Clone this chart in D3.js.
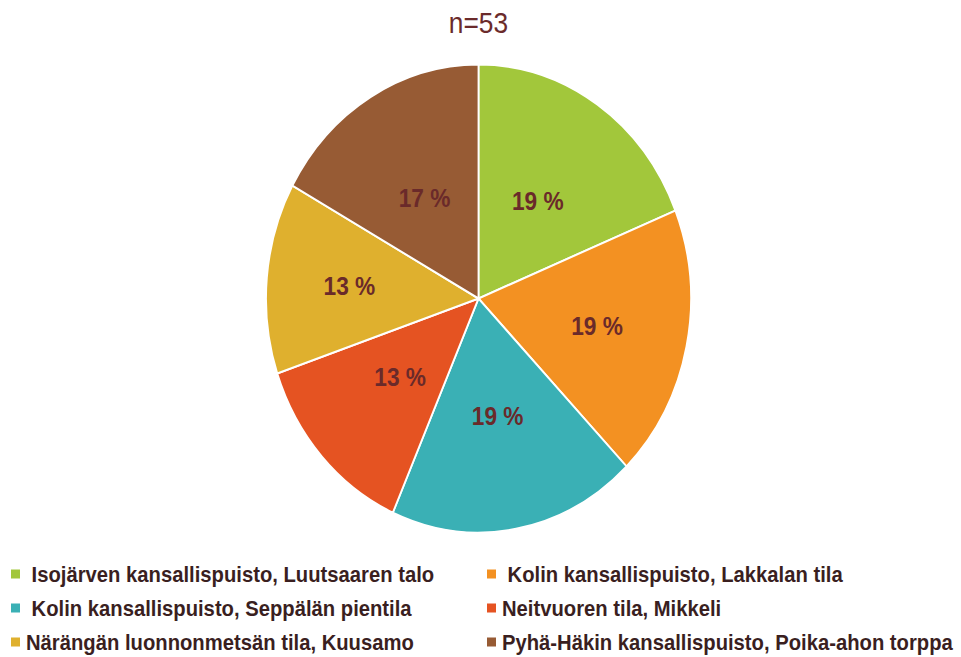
<!DOCTYPE html>
<html><head><meta charset="utf-8">
<script src="https://cdn.jsdelivr.net/npm/d3@7"></script>
<style>body{margin:0;background:#fff}text{white-space:pre}</style>
</head><body>
<svg id="c" width="961" height="657"></svg>
<script>
const categories = [
  " Isojärven kansallispuisto, Luutsaaren talo",
  " Kolin kansallispuisto, Lakkalan tila",
  " Kolin kansallispuisto, Seppälän pientila",
  "Neitvuoren tila, Mikkeli",
  "Närängän luonnonmetsän tila, Kuusamo",
  "Pyhä-Häkin kansallispuisto, Poika-ahon torppa"
];
const counts = [10, 10, 10, 7, 7, 9];
const percentLabels = ["19 %", "19 %", "19 %", "13 %", "13 %", "17 %"];
const colors = ["#A2C73B", "#F39122", "#3AB0B5", "#E55322", "#DFB02E", "#975B34"];
const title = "n=53";

const sx = 0.908;
const svg = d3.select("#c");
const g = svg.append("g").attr("transform", `scale(${sx},1)`);
const cx = 478.5 / sx, cy = 298.5, R = 234;

g.append("text").attr("x", cx).attr("y", 33).attr("text-anchor", "middle")
  .attr("font-family", "Liberation Sans, Arial, sans-serif").attr("font-size", 29)
  .attr("fill", "#6B2B2B").text(title);

const pie = d3.pie().sort(null).value(d => d)(counts);
const arc = d3.arc().innerRadius(0).outerRadius(R);
const pg = g.append("g").attr("transform", `translate(${cx},${cy})`);
pg.selectAll("path").data(pie).join("path")
  .attr("d", arc).attr("fill", (d, i) => colors[i])
  .attr("stroke", "#fff").attr("stroke-width", 2);

const labelR = [0.5, 0.57, 0.51, 0.5, 0.61, 0.5];
pg.selectAll("text.lab").data(pie).join("text").attr("class", "lab")
  .attr("transform", (d, i) => {
    const a = (d.startAngle + d.endAngle) / 2;
    const r = R * labelR[i];
    return `translate(${r * Math.sin(a)},${-r * Math.cos(a)})`;
  })
  .attr("text-anchor", "middle").attr("dy", "0.36em")
  .attr("font-family", "Liberation Sans, Arial, sans-serif").attr("font-weight", "bold")
  .attr("font-size", 25).attr("fill", "#6A2A2A")
  .text((d, i) => percentLabels[i]);

const legX = [11 / sx, 487 / sx];
const legY = [574, 608, 642];
const lg = g.append("g");
categories.forEach((c, i) => {
  const col = i % 2, row = Math.floor(i / 2);
  lg.append("rect").attr("x", legX[col]).attr("y", legY[row] - 4.5).attr("width", 9 / sx).attr("height", 9)
    .attr("fill", colors[i]);
  lg.append("text").attr("x", legX[col] + 15 / sx).attr("y", legY[row]).attr("dy", "0.36em")
    .attr("font-family", "Liberation Sans, Arial, sans-serif").attr("font-weight", "bold")
    .attr("font-size", 22.3).attr("fill", "#3A1F1F").text(c);
});
</script>
</body></html>
